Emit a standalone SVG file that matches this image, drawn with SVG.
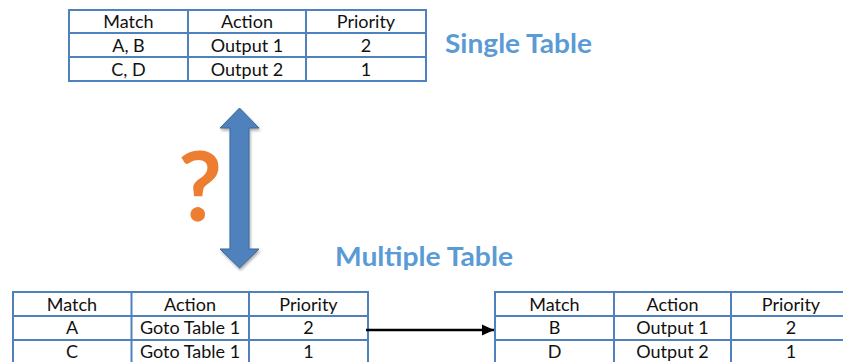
<svg xmlns="http://www.w3.org/2000/svg" width="843" height="362" viewBox="0 0 843 362">
  <style>
    .grid { fill: #ffffff; stroke: #4f81bd; stroke-width: 2; }
    .line { stroke: #4f81bd; stroke-width: 2; fill: none; }
    .cell { font-family: Lato, "Liberation Sans", sans-serif; font-size: 18px; fill: #111111; text-anchor: middle; }
    .title { font-family: Lato, "Liberation Sans", sans-serif; font-weight: bold; fill: #5b9bd5; }
    .conn { stroke: #000000; stroke-width: 2.5; fill: none; }
  </style>
  <defs>
    <marker id="arrowHead" viewBox="0 0 10 10" refX="10" refY="5" markerWidth="5" markerHeight="4.5" orient="auto" markerUnits="strokeWidth" preserveAspectRatio="none">
      <path d="M0,0 L10,5 L0,10 z" fill="#000000"/>
    </marker>
    <filter id="shadow" x="-30%" y="-10%" width="160%" height="120%">
      <feGaussianBlur in="SourceAlpha" stdDeviation="1.5"/>
      <feOffset dx="1" dy="2" result="b"/>
      <feComponentTransfer><feFuncA type="linear" slope="0.35"/></feComponentTransfer>
      <feMerge><feMergeNode/><feMergeNode in="SourceGraphic"/></feMerge>
    </filter>
  </defs>

  <rect width="843" height="362" fill="#ffffff"/>

  <g id="single-table">
    <rect class="grid" x="69" y="10" width="357" height="71"/>
    <line class="line" x1="69" y1="33" x2="426" y2="33"/>
    <line class="line" x1="69" y1="57" x2="426" y2="57"/>
    <line class="line" x1="188" y1="10" x2="188" y2="81"/>
    <line class="line" x1="306" y1="10" x2="306" y2="81"/>
    <text class="cell" x="128.5" y="28">Match</text>
    <text class="cell" x="247" y="28">Action</text>
    <text class="cell" x="366" y="28">Priority</text>
    <text class="cell" x="128.5" y="52">A, B</text>
    <text class="cell" x="247" y="52">Output 1</text>
    <text class="cell" x="366" y="52">2</text>
    <text class="cell" x="128.5" y="75.5">C, D</text>
    <text class="cell" x="247" y="75.5">Output 2</text>
    <text class="cell" x="366" y="75.5">1</text>
  </g>

  <g id="label-single">
    <text class="title" x="445" y="53" font-size="27" textLength="147" lengthAdjust="spacingAndGlyphs">Single Table</text>
  </g>

  <g id="question">
    <text x="200" y="221" font-family="Lato, 'Liberation Sans', sans-serif" font-weight="bold" font-size="96" fill="#ed7d31" text-anchor="middle">?</text>
  </g>

  <g id="label-multiple">
    <text class="title" x="335" y="266" font-size="26" textLength="178" lengthAdjust="spacingAndGlyphs">Multiple Table</text>
  </g>

  <g id="table-0">
    <rect class="grid" x="13" y="292" width="355" height="74"/>
    <line class="line" x1="13" y1="316" x2="368" y2="316"/>
    <line class="line" x1="13" y1="340" x2="368" y2="340"/>
    <line class="line" x1="131.5" y1="292" x2="131.5" y2="366"/>
    <line class="line" x1="249" y1="292" x2="249" y2="366"/>
    <text class="cell" x="72" y="310.5">Match</text>
    <text class="cell" x="190" y="310.5">Action</text>
    <text class="cell" x="308.5" y="310.5">Priority</text>
    <text class="cell" x="72" y="334">A</text>
    <text class="cell" x="190" y="334">Goto Table 1</text>
    <text class="cell" x="308.5" y="334">2</text>
    <text class="cell" x="72" y="357.5">C</text>
    <text class="cell" x="190" y="357.5">Goto Table 1</text>
    <text class="cell" x="308.5" y="357.5">1</text>
  </g>

  <g id="table-1">
    <rect class="grid" x="495" y="292" width="356" height="74"/>
    <line class="line" x1="495" y1="316" x2="851" y2="316"/>
    <line class="line" x1="495" y1="340" x2="851" y2="340"/>
    <line class="line" x1="614" y1="292" x2="614" y2="366"/>
    <line class="line" x1="731" y1="292" x2="731" y2="366"/>
    <text class="cell" x="554.5" y="310.5">Match</text>
    <text class="cell" x="672.5" y="310.5">Action</text>
    <text class="cell" x="791" y="310.5">Priority</text>
    <text class="cell" x="554.5" y="334">B</text>
    <text class="cell" x="672.5" y="334">Output 1</text>
    <text class="cell" x="791" y="334">2</text>
    <text class="cell" x="554.5" y="357.5">D</text>
    <text class="cell" x="672.5" y="357.5">Output 2</text>
    <text class="cell" x="791" y="357.5">1</text>
  </g>

  <g id="connectors">
    <line class="conn" x1="366" y1="330" x2="494" y2="330" marker-end="url(#arrowHead)"/>
    <path d="M239.5,108 L259,128 L249,128 L249,249 L259,249 L239.5,268 L220,249 L230,249 L230,128 L220,128 Z" fill="#4f81bd" stroke="#3a679a" stroke-width="1" filter="url(#shadow)"/>
  </g>
</svg>
